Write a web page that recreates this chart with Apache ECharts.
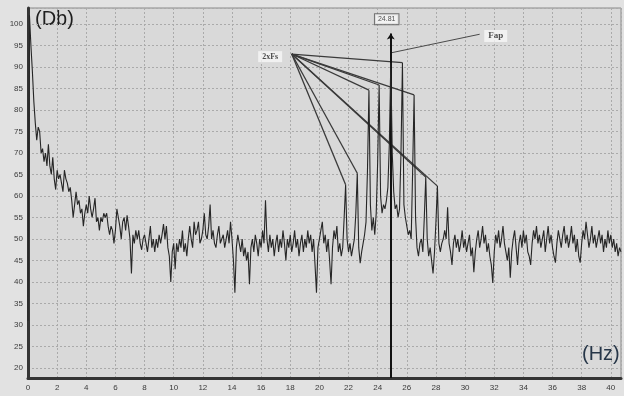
<!DOCTYPE html>
<html>
<head>
<meta charset="utf-8">
<script src="https://cdn.jsdelivr.net/npm/echarts@6/dist/echarts.min.js"></script>
<style>
  html, body { margin: 0; padding: 0; background: #e2e2e2; }
  #chart { width: 624px; height: 396px; }
</style>
</head>
<body>
<div id="chart"></div>
<script>
// spectrum level (dB), one value per 0.1 Hz bin starting at 0 Hz
const freqStep = 0.1;
const levels = [
  31, 102, 95, 89, 82, 77, 73, 76, 75, 70,
  71, 68, 70, 67, 72, 67, 65, 69, 64, 61.5,
  66, 64, 65, 63, 61, 66, 64, 63, 61, 62,
  59, 55, 58, 61, 58, 59, 56, 57, 53, 56,
  58, 56, 60, 57, 55, 57, 59.5, 54, 55, 52,
  55, 54, 56, 55, 56, 53, 51, 53, 52, 49,
  52, 57, 55, 53, 50, 54, 55, 52, 55.5, 53,
  50, 42, 51, 49, 52, 50, 52, 49, 47.5, 50,
  51, 49, 47, 50, 53, 48, 50, 47, 50, 48,
  51, 49, 51, 53.5, 50, 53, 48, 46, 40, 47,
  49, 43, 49, 47, 50, 48, 52, 47, 49, 46,
  50, 53, 50, 48, 54, 51, 52, 54, 49, 50,
  52, 56, 51, 50, 53, 58, 50, 52, 49, 48,
  51, 53, 49, 50, 51, 48, 50, 52, 49, 54,
  50, 45, 37.5, 48, 51, 49, 47, 50, 46, 48,
  45, 47, 39.5, 48, 50, 47, 51, 49, 46, 50,
  48, 52, 49, 59, 50, 47, 51, 48, 50, 46,
  49, 51, 47, 50, 48, 52, 49, 45, 50, 48,
  51, 47, 49, 52, 48, 50, 46, 49, 51, 47,
  50, 48, 52, 49, 51, 47, 50, 44, 37.5, 48,
  50, 52, 54, 49, 51, 47, 50, 45, 39.5, 48,
  52, 50, 53, 47, 49, 46, 48, 55, 62.6, 50,
  47, 49, 46, 48, 50, 56, 65.3, 48, 44.4, 47,
  49, 51, 54, 66, 84.6, 58, 52, 55, 51, 56,
  68, 85.8, 60, 56, 58, 57, 59, 62, 72, 91,
  70, 61, 57, 58, 55, 57, 70, 91, 58, 55,
  53, 51, 52, 50, 66, 83.5, 55, 48, 46, 49,
  50, 47, 55, 64.4, 50, 46, 48, 45, 42, 47,
  54, 62.3, 49, 47, 49, 50, 52, 50, 57.4, 49,
  47, 44, 49, 51, 48, 50, 47, 49, 52, 48,
  50, 47, 49, 51, 46, 48, 42.3, 47, 50, 52,
  48, 50, 53, 49, 51, 47, 49, 46, 44, 39.8,
  47, 51, 49, 52, 48, 50, 53, 49, 47, 45,
  48, 41, 47, 50, 52, 48, 44, 49, 51, 48,
  52, 49, 51, 47, 46, 44, 49, 52, 50, 53,
  49, 51, 48, 50, 52, 47, 50, 53, 49, 51,
  48, 46, 44.5, 49, 52, 50, 48, 51, 53, 49,
  51, 48, 50, 53, 49, 51, 47, 50, 46, 44.5,
  49, 52, 50, 54, 51, 48, 50, 53, 49, 51,
  48, 50, 52, 49, 51, 47, 50, 48, 52, 49,
  51, 48, 50, 47, 49, 46, 48, 47
];

// sideband peaks joined to the "2xFs" label
const sidebandFreqs = [21.8, 22.6, 23.4, 24.1, 25.7, 26.5, 27.3, 28.1];
const fanOrigin = [18.1, 93.0];
const fanLabel = [16.62, 92.4];

// cursor at the main peak
const markerFreq = 24.9;
const markerTop = 97.8;
const markerText = '24.81';
const markerLabel = [24.62, 101.1];

// "Fap" leader line
const fapFrom = [31.0, 97.6];
const fapTo = [24.95, 93.3];
const fapLabel = [32.1, 97.2];

const xRange = [0, 40.7];
const yRange = [17.7, 103.7];
const xTickStep = 2;
const yTickStep = 5;

const spectrum = levels.map((v, i) => [+(i * freqStep).toFixed(1), v]);
const fanLines = sidebandFreqs.map(f => ({
  coords: [fanOrigin, [f, levels[Math.round(f / freqStep)]]]
}));

const chart = echarts.init(document.getElementById('chart'));

const tickFont = { fontFamily: 'Liberation Sans', fontSize: 8, color: '#3a3a3a' };
const gridLine = { show: true, lineStyle: { color: '#aaaaaa', type: [2, 2], width: 1 } };
const boxLabel = {
  show: true,
  position: 'inside',
  fontFamily: 'Liberation Serif',
  fontWeight: 'bold',
  fontSize: 8,
  color: '#222',
  backgroundColor: '#f6f6f6',
  padding: [2, 4, 1, 4]
};

chart.setOption({
  animation: false,
  backgroundColor: '#e2e2e2',
  grid: {
    left: 28, right: 0, top: 8, bottom: 18,
    show: true,
    backgroundColor: '#d9d9d9',
    borderColor: '#8a8a8a',
    borderWidth: 1
  },
  xAxis: {
    type: 'value',
    min: xRange[0],
    max: xRange[1],
    interval: xTickStep,
    axisLine: { show: true, lineStyle: { color: '#353535', width: 3 } },
    axisTick: { show: false },
    splitLine: gridLine,
    axisLabel: {
      ...tickFont,
      margin: 6,
      formatter: v => (Math.abs(v - Math.round(v)) < 1e-6 && Math.round(v) % xTickStep === 0) ? String(Math.round(v)) : ''
    }
  },
  yAxis: {
    type: 'value',
    min: yRange[0],
    max: yRange[1],
    splitNumber: 17,
    minInterval: yTickStep,
    maxInterval: yTickStep,
    axisLine: { show: true, lineStyle: { color: '#353535', width: 3 } },
    axisTick: { show: false },
    splitLine: gridLine,
    axisLabel: {
      ...tickFont,
      margin: 5,
      formatter: v => (Math.abs(v % yTickStep) < 1e-6) ? String(v) : ''
    }
  },
  graphic: [
    {
      type: 'text', left: 35, top: 9,
      style: { text: '(Db)', font: '20px "Liberation Sans"', fill: '#1e1e1e' }
    },
    {
      type: 'text', left: 582, top: 344,
      style: { text: '(Hz)', font: '20px "Liberation Sans"', fill: '#263648' }
    }
  ],
  series: [
    {
      type: 'line',
      data: spectrum,
      showSymbol: false,
      symbol: 'none',
      lineStyle: { color: '#262626', width: 1.1 },
      silent: true
    },
    {
      type: 'lines',
      coordinateSystem: 'cartesian2d',
      data: fanLines,
      lineStyle: { color: '#3a3a3a', width: 1.3, opacity: 1 },
      silent: true
    },
    {
      type: 'lines',
      coordinateSystem: 'cartesian2d',
      data: [{ coords: [fapFrom, fapTo] }],
      lineStyle: { color: '#4a4a4a', width: 1, opacity: 1 },
      silent: true
    },
    {
      type: 'lines',
      coordinateSystem: 'cartesian2d',
      data: [{ coords: [[markerFreq, yRange[0]], [markerFreq, markerTop]] }],
      symbol: ['none', 'arrow'],
      symbolSize: 6,
      lineStyle: { color: '#111', width: 2, opacity: 1 },
      silent: true
    },
    {
      type: 'scatter',
      symbolSize: 1,
      itemStyle: { color: 'rgba(0,0,0,0)' },
      silent: true,
      label: { ...boxLabel, formatter: '{b}' },
      data: [
        {
          name: markerText, value: markerLabel,
          label: {
            fontFamily: 'Liberation Sans', fontWeight: 'normal', fontSize: 7,
            backgroundColor: '#f7f7f7', borderColor: '#555', borderWidth: 1,
            padding: [2, 3, 1, 3]
          }
        },
        { name: '2xFs', value: fanLabel },
        { name: 'Fap', value: fapLabel, label: { fontSize: 9 } }
      ]
    }
  ]
});
</script>
</body>
</html>
